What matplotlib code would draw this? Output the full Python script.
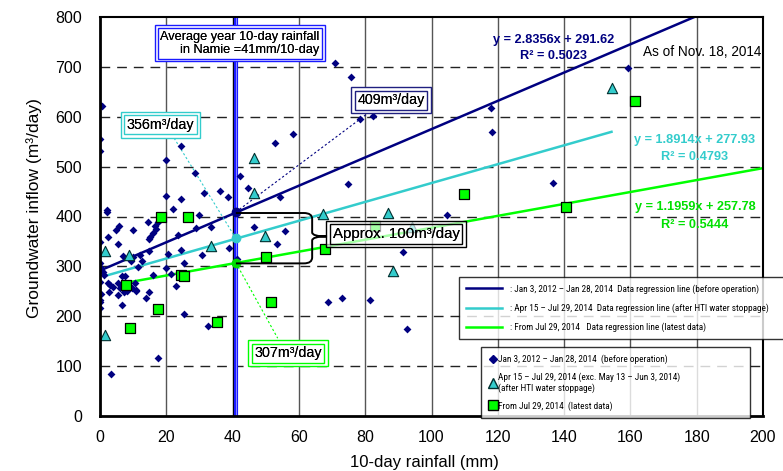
import matplotlib
matplotlib.use("Agg")
import matplotlib.pyplot as plt
import numpy as np
from matplotlib.path import Path
from matplotlib.patches import PathPatch
from matplotlib.lines import Line2D

plt.rcParams['font.family'] = ['Liberation Sans', 'DejaVu Sans']

# ---------------- data ----------------
before_x = [0.0, 0.6, 0.0, 0.0, 70.9, 75.8, 78.3, 82.4, 24.3, 19.9, 28.8, 58.3, 52.9,
            42.2, 44.7, 54.3, 74.9, 31.4, 36.2, 38.5, 24.4, 19.9, 21.9, 2.0, 2.2, 29.9,
            46.5, 55.9, 33.4, 29.0, 23.4, 14.6, 17.5, 16.6, 16.9, 16.0, 15.2, 9.9, 5.8,
            4.9, 2.4, 0.0, 5.3, 0.0, 0.2, 0.4, 0.8, 1.3, 0.0, 0.0, 0.0, 0.3, 2.4, 3.1,
            3.8, 3.4, 5.5, 5.9, 6.5, 6.8, 6.5, 7.4, 9.4, 10.0, 9.6, 10.9, 10.5, 12.1,
            12.6, 14.9, 13.9, 14.9, 14.9, 16.1, 17.5, 20.4, 19.8, 21.4, 22.8, 24.4, 25.3,
            25.3, 30.9, 32.5, 38.8, 41.4, 53.3, 68.9, 72.9, 81.4, 104.6, 91.5, 92.5,
            136.7, 159.4, 117.9, 118.4, 11.6, 8.1, 7.3, 11.0, 2.6, 5.4, 0.0]
before_y = [624, 621, 556, 532, 707, 679, 595, 601, 542, 514, 488, 566, 548,
            481, 457, 439, 465, 447, 451, 439, 435, 442, 415, 413, 410, 403,
            379, 371, 379, 376, 363, 389, 389, 380, 374, 366, 358, 373, 381,
            373, 358, 349, 345, 306, 297, 292, 288, 282, 269, 232, 216, 244, 267, 263,
            258, 84, 267, 257, 222, 321, 281, 281, 311, 318, 257, 253, 266, 323,
            310, 331, 236, 249, 354, 283, 117, 325, 296, 285, 261, 333, 307,
            204, 323, 180, 337, 314, 344, 229, 237, 232, 403, 329, 174,
            467, 698, 618, 570, 299, 251, 249, 251, 249, 242, 229]

after_x = [1.5, 8.8, 1.5, 33.4, 46.5, 46.5, 49.8, 67.2, 86.8, 88.5, 94.0, 154.3]
after_y = [331, 323, 162, 341, 518, 448, 361, 405, 408, 291, 379, 657]

latest_x = [18.4, 26.5, 7.8, 17.4, 9.0, 24.3, 25.4, 35.4, 50.0, 51.5, 67.9, 83.0,
            109.9, 140.5, 161.4]
latest_y = [399, 399, 262, 214, 177, 283, 281, 189, 318, 229, 335, 381,
            446, 419, 631]

slopes = [2.8356, 1.8914, 1.1959]
intercepts = [291.62, 277.93, 257.78]
r2 = [0.5023, 0.4793, 0.5444]

avg_rain = 41
at_avg = [409, 356, 307]

NAVY = '#000080'
CYAN = '#33CCCC'
GREEN = '#00FF00'
GREEN_T = '#00E000'

fig = plt.figure(figsize=(7.83, 4.71), dpi=100)
ax = fig.add_axes([100/783, 1-416/471, 663/783, 399/471])
ax.set_xlim(0, 200)
ax.set_ylim(0, 800)

# grid
for xv in range(20, 200, 20):
    ax.axvline(xv, color='#000000' if xv == 40 else '#555555', lw=1.0, zorder=1)
for yv in range(100, 800, 100):
    ax.axhline(yv, color='#222222', lw=1.0, dashes=(7, 5), zorder=1)

# average rainfall line (double)
ax.axvline(avg_rain, color='#1a1aff', lw=3.0, zorder=2)
ax.axvline(avg_rain, color='#9999ff', lw=0.6, zorder=2)

# scatter
ax.scatter(before_x, before_y, marker='D', s=16, color=NAVY, zorder=4, linewidths=0)
ax.scatter(after_x, after_y, marker='^', s=55, facecolor=CYAN, edgecolor='#003030', linewidths=0.8, zorder=4)
ax.scatter(latest_x, latest_y, marker='s', s=55, facecolor=GREEN, edgecolor='black', linewidths=0.9, zorder=4)

# regression lines
xr0 = np.array([0, 200])
ax.plot(xr0, slopes[0]*xr0 + intercepts[0], color=NAVY, lw=1.8, zorder=3)
xr1 = np.array([min(after_x), max(after_x)])
ax.plot(xr1, slopes[1]*xr1 + intercepts[1], color=CYAN, lw=1.8, zorder=3)
xr2 = np.array([min(latest_x), 200])
ax.plot(xr2, slopes[2]*xr2 + intercepts[2], color=GREEN, lw=1.8, zorder=3)

# points at average rainfall
for v, c in zip(at_avg, [NAVY, CYAN, '#00DD00']):
    ax.plot([avg_rain], [v], 'o', ms=6, color=c, zorder=5)

# dotted leader lines and boxes
def dbl_box(x, y, text, ec, fs=10.5, ha='center', ma='center', pad_out=0.42, pad_in=0.18,
            fc='white'):
    ax.text(x, y, text, ha=ha, va='center', fontsize=fs, multialignment=ma, zorder=8,
            bbox=dict(boxstyle=f'square,pad={pad_out}', fc=fc, ec=ec, lw=1.0))
    ax.text(x, y, text, ha=ha, va='center', fontsize=fs, multialignment=ma, zorder=8,
            bbox=dict(boxstyle=f'square,pad={pad_in}', fc='none', ec=ec, lw=1.0))

ax.plot([avg_rain, 80.8], [at_avg[0], 607], color=NAVY, lw=0.8, ls=(0, (2, 2)), zorder=3)
ax.plot([avg_rain, 22.0], [at_avg[1], 561], color=CYAN, lw=0.8, ls=(0, (2, 2)), zorder=3)
ax.plot([avg_rain, 53.6], [at_avg[2], 156], color=GREEN, lw=0.8, ls=(0, (2, 2)), zorder=3)

dbl_box(87.8, 633, '409m³/day', '#202080', fs=10.3)
dbl_box(18.3, 584, '356m³/day', CYAN, fs=10.3)
dbl_box(56.7, 126, '307m³/day', GREEN, fs=10.3)
dbl_box(42.2, 747, 'Average year 10-day rainfall\nin Namie =41mm/10-day', '#1a1aff', fs=9.2,
        ma='right', pad_out=0.4, pad_in=0.17)
dbl_box(89.3, 365, 'Approx. 100m³/day', 'black', fs=10.8, fc=(1, 1, 1, 0.65))

# brace
ytop, ybot, ymid = 407, 306, 360
verts = [(avg_rain, ytop), (61.5, ytop), (64.0, ytop), (64.0, ytop-12),
         (64.0, ymid+8), (64.0, ymid), (68.5, ymid),
         (64.0, ymid), (64.0, ymid-8),
         (64.0, ybot+12), (64.0, ybot), (61.5, ybot), (avg_rain, ybot)]
codes = [Path.MOVETO, Path.LINETO, Path.CURVE3, Path.CURVE3,
         Path.LINETO, Path.CURVE3, Path.CURVE3,
         Path.CURVE3, Path.CURVE3,
         Path.LINETO, Path.CURVE3, Path.CURVE3, Path.LINETO]
ax.add_patch(PathPatch(Path(verts, codes), fc='none', ec='black', lw=1.4, zorder=6))

# equations
eq_fs = 9.2
ax.text(136.7, 753, f'y = {slopes[0]}x + {intercepts[0]}', color=NAVY, fontsize=eq_fs,
        fontweight='bold', ha='center', va='center', zorder=7)
ax.text(136.7, 721, f'R² = {r2[0]}', color=NAVY, fontsize=eq_fs,
        fontweight='bold', ha='center', va='center', zorder=7)
ax.text(179.5, 553, f'y = {slopes[1]}x + {intercepts[1]}', color=CYAN, fontsize=eq_fs,
        fontweight='bold', ha='center', va='center', zorder=7)
ax.text(179.5, 519, f'R² = {r2[1]}', color=CYAN, fontsize=eq_fs,
        fontweight='bold', ha='center', va='center', zorder=7)
ax.text(179.5, 419, f'y = {slopes[2]}x + {intercepts[2]}', color=GREEN_T, fontsize=eq_fs,
        fontweight='bold', ha='center', va='center', zorder=7)
ax.text(179.5, 383, f'R² = {r2[2]}', color=GREEN_T, fontsize=eq_fs,
        fontweight='bold', ha='center', va='center', zorder=7)

ax.text(199.6, 729, 'As of Nov. 18, 2014', fontsize=9.8, ha='right', va='center', zorder=7)

# axes styling
for s in ax.spines.values():
    s.set_linewidth(1.5)
    s.set_zorder(6)
ax.spines['left'].set_linewidth(2.0)
ax.spines['bottom'].set_linewidth(2.0)
ax.set_xticks(range(0, 201, 20))
ax.set_yticks(range(0, 801, 100))
ax.tick_params(length=0, labelsize=11.5)
ax.tick_params(axis='y', pad=13)
ax.tick_params(axis='x', pad=10)
ax.set_xlabel('10-day rainfall (mm)', fontsize=12)
ax.set_ylabel('Groundwater inflow (m³/day)', fontsize=12.5)
ax.yaxis.set_label_coords(-0.088, 0.52)
ax.xaxis.set_label_coords(0.49, -0.098)

# legends
narrow = ['Roboto Condensed', 'Liberation Sans']
leg_fs = 6.7
line_handles = [Line2D([], [], color=NAVY, lw=1.8),
                Line2D([], [], color=CYAN, lw=1.8),
                Line2D([], [], color=GREEN, lw=1.8)]
line_labels = [': Jan 3, 2012 – Jan 28, 2014  Data regression line (before operation)',
               ': Apr 15 – Jul 29, 2014  Data regression line (after HTI water stoppage)',
               ': From Jul 29, 2014   Data regression line (latest data)']
leg1 = ax.legend(line_handles, line_labels, loc='upper left',
                 bbox_to_anchor=(0.5415, 0.198, 0.49, 0.15), mode='expand',
                 borderaxespad=0, frameon=True, fancybox=False, edgecolor='black',
                 prop={'family': narrow, 'size': leg_fs}, handlelength=3.9,
                 handletextpad=0.8, labelspacing=1.05, borderpad=0.75)
leg1.get_frame().set_linewidth(1.0)
leg1.set_zorder(9)
ax.add_artist(leg1)

pt_handles = [Line2D([], [], ls='none', marker='D', ms=4, color=NAVY),
              Line2D([], [], ls='none', marker='^', ms=7, mfc=CYAN, mec='#003030'),
              Line2D([], [], ls='none', marker='s', ms=7, mfc=GREEN, mec='black')]
pt_labels = ['Jan 3, 2012 – Jan 28, 2014  (before operation)',
             'Apr 15 – Jul 29, 2014 (exc. May 13 – Jun 3, 2014)\n(after HTI water stoppage)',
             'From Jul 29, 2014  (latest data)']
leg2 = ax.legend(pt_handles, pt_labels, loc='upper left',
                 bbox_to_anchor=(0.5747, -0.01, 0.405, 0.183), mode='expand',
                 borderaxespad=0, frameon=True, fancybox=False, edgecolor='black',
                 prop={'family': narrow, 'size': leg_fs}, handlelength=0.8,
                 handletextpad=0.2, labelspacing=0.85, borderpad=0.85)
leg2.get_frame().set_linewidth(1.0)
leg2.set_zorder(9)
leg2.set_clip_on(False)

fig.savefig('out.png', dpi=100)
